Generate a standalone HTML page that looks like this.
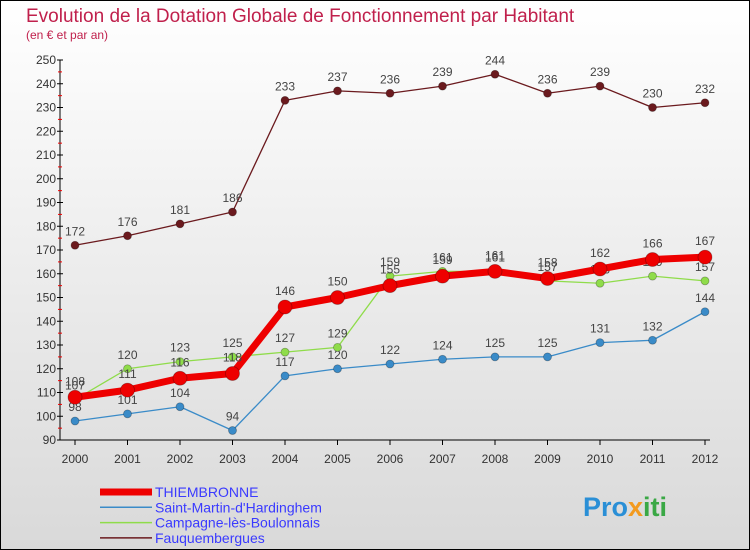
<!DOCTYPE html>
<html><head><meta charset="utf-8"><style>
body{margin:0;width:750px;height:550px;overflow:hidden;font-family:"Liberation Sans",sans-serif}
svg{display:block}
</style></head><body>
<svg width="750" height="550" xmlns="http://www.w3.org/2000/svg">
<defs><linearGradient id="bg" x1="0" y1="0" x2="0" y2="1"><stop offset="0" stop-color="#ffffff"/><stop offset="1" stop-color="#d9d9d9"/></linearGradient></defs>
<rect x="0.5" y="0.5" width="749" height="549" fill="url(#bg)" stroke="#000"/>
<text x="26" y="22" font-size="19" fill="#c0204c">Evolution de la Dotation Globale de Fonctionnement par Habitant</text>
<text x="26" y="39" font-size="12" fill="#c0204c">(en € et par an)</text>
<g id="axes"></g>
<g id="series"></g>
<g id="legend"></g>
<g><text x="583" y="516" font-size="27" font-weight="bold" fill="#2a8fd6">Pro<tspan fill="#f39a1e">x</tspan><tspan fill="#3aa845">iti</tspan></text></g>
</svg>
<script>
const years=["2000","2001","2002","2003","2004","2005","2006","2007","2008","2009","2010","2011","2012"];
const yTicks=[90,100,110,120,130,140,150,160,170,180,190,200,210,220,230,240,250];
const thiembronne=[108,111,116,118,146,150,155,159,161,158,162,166,167];
const saintMartin=[98,101,104,94,117,120,122,124,125,125,131,132,144];
const campagne=[107,120,123,125,127,129,159,161,161,157,156,159,157];
const fauquembergues=[172,176,181,186,233,237,236,239,244,236,239,230,232];
const names=["THIEMBRONNE","Saint-Martin-d'Hardinghem","Campagne-lès-Boulonnais","Fauquembergues"];
const NS="http://www.w3.org/2000/svg";
const X=i=>75+i*(630/12);
const Y=v=>440-(v-90)*2.375;
function mk(t,a,p){const e=document.createElementNS(NS,t);for(const k in a)e.setAttribute(k,a[k]);p.appendChild(e);return e;}
const ax=document.getElementById('axes');
const yl=mk('line',{x1:60,y1:60,x2:60,y2:440,stroke:'#000'},ax);


const xl=mk('line',{x1:60,y1:440,x2:710,y2:440,stroke:'#000'},ax);


yTicks.forEach(v=>{
 mk('line',{x1:57,x2:63,y1:Y(v),y2:Y(v),stroke:'#000'},ax);
 if(v>90) mk('line',{x1:58,x2:62,y1:Y(v)+11.9,y2:Y(v)+11.9,stroke:'#e00'},ax);
 const t=mk('text',{x:56,y:Y(v)+4,'font-size':12,fill:'#333','text-anchor':'end'},ax);t.textContent=v;
 
 
});
years.forEach((y,i)=>{
 mk('line',{x1:X(i),x2:X(i),y1:440,y2:445,stroke:'#000'},ax);
 const t=mk('text',{x:X(i),y:463,'font-size':12,fill:'#333','text-anchor':'middle'},ax);t.textContent=y;
 
 
});
const sg=document.getElementById('series');
function draw(data,color,w,r,name,labelDy){
 const g=mk('g',{},sg);
 
 
 mk('polyline',{points:data.map((v,i)=>X(i)+','+Y(v)).join(' '),fill:'none',stroke:color,'stroke-width':w,'stroke-linejoin':'round'},g);
 data.forEach((v,i)=>{
  const c=mk('circle',{cx:X(i),cy:Y(v),r:r,fill:color,stroke:'rgba(0,0,0,0.3)','stroke-width':0.8},g);
  
  
  const t=mk('text',{x:X(i),y:Y(v)-labelDy,'font-size':12,fill:'#444','text-anchor':'middle'},g);t.textContent=v;
  
  
 });
}
draw(fauquembergues,'#6b1a1e',1.3,4,'series-fauquembergues',10);
draw(saintMartin,'#3a8bc8',1.3,4,'series-saint-martin',10);
draw(campagne,'#8fdc4a',1.3,4,'series-campagne',10);
draw(thiembronne,'#ee0000',7,7,'series-thiembronne',12);
const lg=document.getElementById('legend');
const cols=['#ee0000','#3a8bc8','#8fdc4a','#6b1a1e'];const ws=[7,1.5,1.5,1.5];
names.forEach((n,i)=>{
 const g=mk('g',{},lg);
 
 
 const y=492+i*15.3;
 mk('line',{x1:100,x2:152,y1:y,y2:y,stroke:cols[i],'stroke-width':ws[i]},g);
 const t=mk('text',{x:155,y:y+5,'font-size':14,fill:'#3a3aff'},g);t.textContent=n;
});
</script>
</body></html>
